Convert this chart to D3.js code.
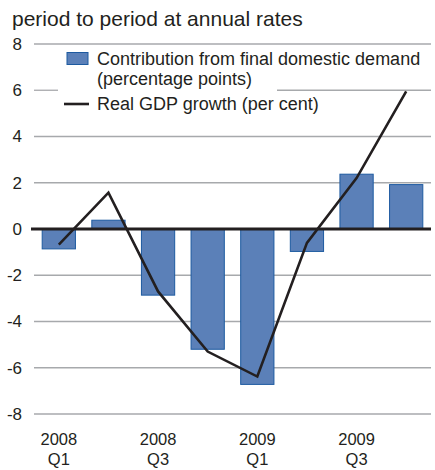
<!DOCTYPE html>
<html><head><meta charset="utf-8">
<script src="https://cdn.jsdelivr.net/npm/d3@7"></script>
<style>body{margin:0;background:#fff}svg{display:block}text{font-family:"Liberation Sans",Arial,sans-serif;fill:#231f20}</style>
</head><body>
<script>
const quarters = ["2008Q1","2008Q2","2008Q3","2008Q4","2009Q1","2009Q2","2009Q3","2009Q4"];
const demandContribution = [-0.86, 0.38, -2.86, -5.2, -6.72, -0.97, 2.37, 1.92];
const gdpGrowth = [-0.68, 1.57, -2.7, -5.3, -6.38, -0.6, 2.2, 5.95];
const yTicks = [8, 6, 4, 2, 0, -2, -4, -6, -8];
const xLabels = [["2008","Q1"],["",""],["2008","Q3"],["",""],["2009","Q1"],["",""],["2009","Q3"],["",""]];
const titleText = "period to period at annual rates";
const legendBar = ["Contribution from final domestic demand", "(percentage points)"];
const legendLine = "Real GDP growth (per cent)";

const W = 435, H = 470;
const svg = d3.select("body").append("svg").attr("width", W).attr("height", H);
const left = 34, right = 431;
const y = d3.scaleLinear().domain([-8, 8]).range([414, 44]);
const x = d3.scaleBand().domain(quarters).range([left, right]).paddingInner(0.33).paddingOuter(0.165);

svg.append("text").attr("x", 12).attr("y", 26).attr("font-size", 21).text(titleText);

// gridlines
const grid = svg.append("g");
yTicks.filter(d => d !== 0).forEach(t => {
  if (t === 6) {
    grid.append("line").attr("x1", left).attr("x2", 58).attr("y1", y(t)).attr("y2", y(t));
    grid.append("line").attr("x1", 277).attr("x2", right).attr("y1", y(t)).attr("y2", y(t));
  } else {
    grid.append("line").attr("x1", left).attr("x2", right).attr("y1", y(t)).attr("y2", y(t));
  }
});
grid.selectAll("line").attr("stroke", "#a7a9ac").attr("stroke-width", 1.3);

// y labels
svg.append("g").selectAll("text").data(yTicks).join("text")
  .attr("x", 22).attr("y", d => y(d)).attr("dy", "0.35em").attr("text-anchor", "end")
  .attr("font-size", 17).text(d => d);

// bars
svg.append("g").selectAll("rect").data(demandContribution).join("rect")
  .attr("x", (d, i) => x(quarters[i]))
  .attr("width", x.bandwidth())
  .attr("y", d => y(Math.max(0, d)))
  .attr("height", d => Math.abs(y(d) - y(0)))
  .attr("fill", "#5b80b8").attr("stroke", "#1d5aa0").attr("stroke-width", 1);

// zero line
svg.append("line").attr("x1", 31).attr("x2", right).attr("y1", y(0)).attr("y2", y(0))
  .attr("stroke", "#231f20").attr("stroke-width", 3.2);

// GDP line
const line = d3.line().x((d, i) => x(quarters[i]) + x.bandwidth() / 2).y(d => y(d));
svg.append("path").attr("d", line(gdpGrowth)).attr("fill", "none")
  .attr("stroke", "#231f20").attr("stroke-width", 2.6).attr("stroke-linejoin", "miter");

// x labels
const xl = svg.append("g").selectAll("g").data(xLabels).join("g")
  .attr("transform", (d, i) => `translate(${x(quarters[i]) + x.bandwidth() / 2},0)`);
xl.filter(d => d[0]).append("text").attr("y", 445).attr("text-anchor", "middle").attr("font-size", 16.5).text(d => d[0]);
xl.filter(d => d[1]).append("text").attr("y", 464.5).attr("text-anchor", "middle").attr("font-size", 16.5).text(d => d[1]);

// legend
const lg = svg.append("g");
lg.append("rect").attr("x", 67).attr("y", 52.5).attr("width", 21).attr("height", 12)
  .attr("fill", "#5b80b8").attr("stroke", "#1d5aa0").attr("stroke-width", 1);
lg.append("text").attr("x", 97).attr("y", 65).attr("font-size", 18).text(legendBar[0]);
lg.append("text").attr("x", 97).attr("y", 85).attr("font-size", 18).text(legendBar[1]);
lg.append("line").attr("x1", 64).attr("x2", 89).attr("y1", 104).attr("y2", 104)
  .attr("stroke", "#231f20").attr("stroke-width", 2.6);
lg.append("text").attr("x", 97).attr("y", 110).attr("font-size", 18).text(legendLine);
</script>
</body></html>
